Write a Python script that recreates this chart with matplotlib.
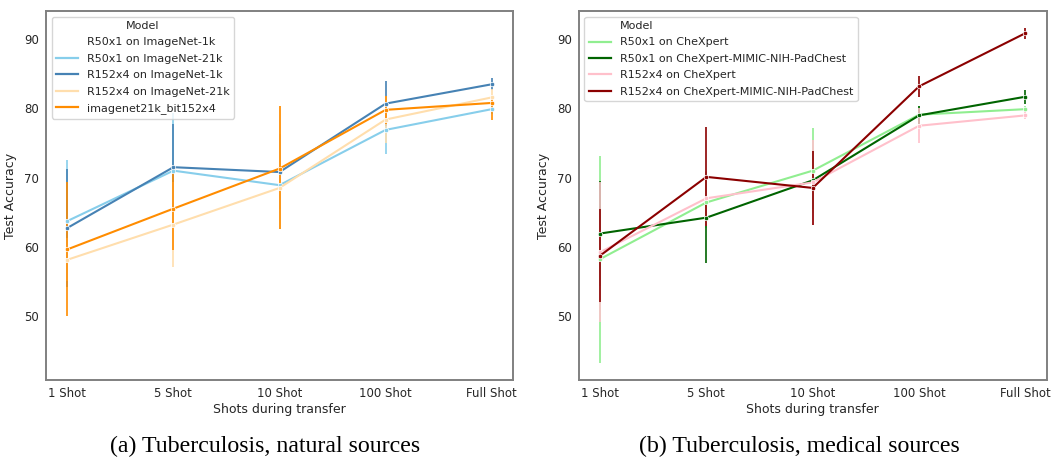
import numpy as np
import matplotlib
matplotlib.use("Agg")
import matplotlib.pyplot as plt
from matplotlib.lines import Line2D

shots = ["1 Shot", "5 Shot", "10 Shot", "100 Shot", "Full Shot"]

# panel (a): natural sources
nat_names = ["R50x1 on ImageNet-1k", "R50x1 on ImageNet-21k", "R152x4 on ImageNet-1k",
             "R152x4 on ImageNet-21k", "imagenet21k_bit152x4"]
nat_colors = ["white", "#87CEEB", "#4682B4", "#FFDEAD", "#FF8C00"]
nat_mean = [
    [np.nan] * 5,
    [63.7, 71.0, 68.9, 76.9, 79.9],
    [62.7, 71.5, 70.8, 80.7, 83.5],
    [58.1, 63.2, 68.5, 78.4, 81.6],
    [59.6, 65.5, 71.3, 79.8, 80.8],
]
nat_lo = [
    [np.nan] * 5,
    [55.0, 63.0, 62.5, 73.4, 79.2],
    [54.2, 65.2, 65.4, 77.4, 82.6],
    [55.0, 57.1, 62.5, 75.0, 80.4],
    [50.0, 59.5, 62.5, 77.8, 78.4],
]
nat_hi = [
    [np.nan] * 5,
    [72.5, 79.3, 75.2, 80.4, 80.6],
    [71.2, 77.8, 76.3, 84.0, 84.4],
    [61.2, 69.3, 80.3, 81.8, 82.8],
    [69.3, 70.6, 80.3, 81.8, 81.7],
]

# panel (b): medical sources
med_names = ["R50x1 on CheXpert", "R50x1 on CheXpert-MIMIC-NIH-PadChest",
             "R152x4 on CheXpert", "R152x4 on CheXpert-MIMIC-NIH-PadChest"]
med_colors = ["#90EE90", "#006400", "#FFC0CB", "#8B0000"]
med_mean = [
    [58.2, 66.4, 71.0, 79.1, 79.9],
    [61.9, 64.2, 69.6, 79.0, 81.7],
    [59.2, 67.0, 69.3, 77.5, 79.0],
    [58.7, 70.1, 68.5, 83.2, 90.9],
]
med_lo = [
    [43.2, 62.7, 64.9, 77.8, 79.5],
    [54.3, 57.6, 65.4, 77.7, 80.7],
    [49.1, 63.0, 63.2, 75.0, 78.5],
    [52.0, 63.0, 63.2, 81.7, 90.1],
]
med_hi = [
    [73.1, 70.1, 77.1, 80.4, 80.3],
    [69.5, 70.8, 73.8, 80.3, 82.6],
    [69.4, 71.0, 75.4, 80.0, 79.5],
    [65.4, 77.3, 73.8, 84.7, 91.7],
]

plt.rcParams["font.family"] = "DejaVu Sans"
TXT = "#262626"


def draw_panel(ax, names, colors, mean, lo, hi):
    x = np.arange(len(shots))
    for c, m, l, h in zip(colors, mean, lo, hi):
        m, l, h = np.array(m), np.array(l), np.array(h)
        if np.all(np.isnan(m)):
            continue
        ax.vlines(x, l, h, color=c, lw=1.2, zorder=2)
        ax.plot(x, m, color=c, lw=1.5, marker="o", ms=3.2,
                mec="white", mew=0.5, zorder=3)
    ax.set_xticks(x)
    ax.set_xticklabels(shots)
    ax.set_xlim(-0.2, 4.2)
    ax.set_ylim(40.7, 94.1)
    ax.set_yticks([50, 60, 70, 80, 90])
    ax.set_xlabel("Shots during transfer", fontsize=9, color=TXT, labelpad=2)
    ax.set_ylabel("Test Accuracy", fontsize=9, color=TXT, labelpad=5)
    ax.tick_params(length=0, labelsize=8.5, colors=TXT, pad=5)
    for s in ax.spines.values():
        s.set_color("#808080")
        s.set_linewidth(1.4)


fig = plt.figure(figsize=(10.6, 4.59), dpi=100)
ax1 = fig.add_axes([0.0434, 0.172, 0.4406, 0.804])
ax2 = fig.add_axes([0.546, 0.172, 0.4415, 0.804])

draw_panel(ax1, nat_names, nat_colors, nat_mean, nat_lo, nat_hi)
draw_panel(ax2, med_names, med_colors, med_mean, med_lo, med_hi)

h1 = [Line2D([], [], color=c, lw=1.6) for c in nat_colors]
leg1 = ax1.legend(h1, nat_names, title="Model", loc="upper left", fontsize=8,
                  title_fontsize=8, frameon=True, borderpad=0.4,
                  labelspacing=0.58, handlelength=2.0)
leg1.get_frame().set_edgecolor("#cccccc")
for t in leg1.get_texts():
    t.set_color(TXT)
leg1.get_title().set_color(TXT)

h2 = [Line2D([], [], color="none")] + [Line2D([], [], color=c, lw=1.6) for c in med_colors]
leg2 = ax2.legend(h2, ["Model"] + med_names, loc="upper left", fontsize=8,
                  frameon=True, borderpad=0.4, labelspacing=0.58,
                  handlelength=2.0)
leg2.get_frame().set_edgecolor("#cccccc")
for t in leg2.get_texts():
    t.set_color(TXT)

fig.text(0.25, 0.028, "(a) Tuberculosis, natural sources", ha="center",
         va="center", fontsize=17.2, family="Liberation Serif")
fig.text(0.754, 0.028, "(b) Tuberculosis, medical sources", ha="center",
         va="center", fontsize=17.2, family="Liberation Serif")

fig.savefig("out.png", dpi=100)
